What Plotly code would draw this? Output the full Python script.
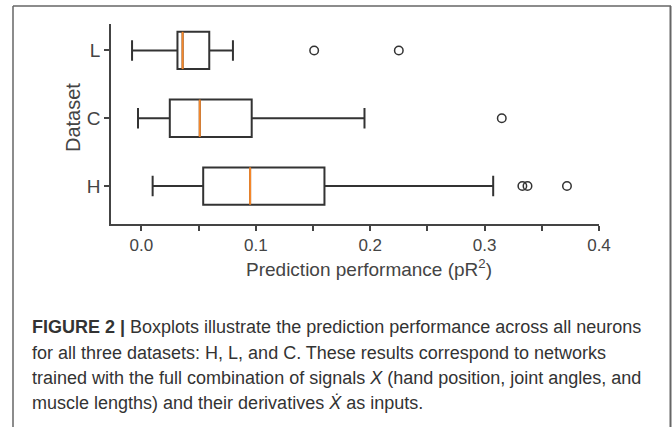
import plotly.graph_objects as go

# ---- data ----
datasets = ["H", "C", "L"]
lower_whisker = [0.0098, -0.0030, -0.0082]
q1_vals = [0.0540, 0.0248, 0.0315]
median_vals = [0.0950, 0.0510, 0.0360]
q3_vals = [0.1600, 0.0964, 0.0593]
upper_whisker = [0.3075, 0.1950, 0.0800]
outliers = [[0.3330, 0.3375, 0.3720], [0.3150], [0.1510, 0.2250]]

x_ticks = [0.0, 0.1, 0.2, 0.3, 0.4]

W, H = 672, 427
PL, PR, PT, PB = 111, 599, 24, 224  # plot area in pixels

def px(x):
    return (x - PL) / (PR - PL)

def py(y):
    return (PB - y) / (PB - PT)

BOX_W = 0.55
DARK = "#333333"
ORANGE = "#f5872a"
FAM = "Liberation Sans, Arial, sans-serif"

fig = go.Figure()
positions = list(range(len(datasets)))
for i, name in enumerate(datasets):
    fig.add_trace(go.Box(
        orientation="h",
        y=[positions[i]],
        q1=[q1_vals[i]], median=[median_vals[i]], q3=[q3_vals[i]],
        lowerfence=[lower_whisker[i]], upperfence=[upper_whisker[i]],
        width=BOX_W, whiskerwidth=0.55,
        fillcolor="rgba(255,255,255,0)",
        line=dict(color=DARK, width=2),
        showlegend=False, hoverinfo="skip",
    ))
    # orange median line
    fig.add_trace(go.Scatter(
        x=[median_vals[i], median_vals[i]],
        y=[positions[i] - BOX_W / 2, positions[i] + BOX_W / 2],
        mode="lines", line=dict(color=ORANGE, width=2),
        showlegend=False, hoverinfo="skip",
    ))
    fig.add_trace(go.Scatter(
        x=outliers[i], y=[positions[i]] * len(outliers[i]),
        mode="markers",
        marker=dict(symbol="circle-open", size=8.5, color=DARK, line=dict(width=1.5)),
        showlegend=False, hoverinfo="skip",
    ))

fig.update_layout(
    width=W, height=H,
    margin=dict(l=PL, r=W - PR, t=PT, b=H - PB, pad=0),
    paper_bgcolor="white", plot_bgcolor="white",
    xaxis=dict(
        range=[-0.0266, 0.4], tickvals=x_ticks, ticktext=[f"{v:.1f}" for v in x_ticks],
        showgrid=False, zeroline=False, showline=True, linecolor="#444444", linewidth=1.5,
        ticks="outside", ticklen=5, tickwidth=1.5, tickcolor="#444444",
        minor=dict(dtick=0.05, tick0=0, ticks="outside", ticklen=5, tickwidth=1.5, tickcolor="#444444"),
        tickfont=dict(family=FAM, size=17, color="#444444"),
    ),
    yaxis=dict(
        range=[-0.56, 2.39], tickvals=positions, ticktext=datasets,
        showgrid=False, zeroline=False, showline=True, linecolor="#444444", linewidth=1.5,
        ticks="outside", ticklen=5, tickwidth=1.5, tickcolor="#444444",
        tickfont=dict(family=FAM, size=19, color="#444444"),
    ),
)

# axis titles
fig.add_annotation(
    text="Prediction performance (pR<sup>2</sup>)", xref="paper", yref="paper",
    x=px(369), y=py(268), xanchor="center", yanchor="middle", showarrow=False,
    font=dict(family=FAM, size=19, color="#444444"),
)
fig.add_annotation(
    text="Dataset", xref="paper", yref="paper", textangle=-90,
    x=px(73), y=py(118), xanchor="center", yanchor="middle", showarrow=False,
    font=dict(family=FAM, size=20, color="#444444"),
)

# frame around figure (left, top, right)
fig.add_shape(type="line", xref="paper", yref="paper",
              x0=px(13), x1=px(13), y0=py(6), y1=py(430),
              line=dict(color="#666666", width=1.5))
fig.add_shape(type="line", xref="paper", yref="paper",
              x0=px(13), x1=px(671), y0=py(6), y1=py(6),
              line=dict(color="#666666", width=1.5))
fig.add_shape(type="line", xref="paper", yref="paper",
              x0=px(670.5), x1=px(670.5), y0=py(6), y1=py(430),
              line=dict(color="#666666", width=2))

caption_lines = [
    "<b>FIGURE 2 |</b> Boxplots illustrate the prediction performance across all neurons",
    "for all three datasets: H, L, and C. These results correspond to networks",
    "trained with the full combination of signals <i>X</i> (hand position, joint angles, and",
    "muscle lengths) and their derivatives <i>Ẋ</i> as inputs.",
]
caption_y = [327, 353, 378, 403]
for txt, yy in zip(caption_lines, caption_y):
    fig.add_annotation(
        text=txt, xref="paper", yref="paper", x=px(30), y=py(yy),
        xanchor="left", yanchor="middle", showarrow=False,
        font=dict(family=FAM, size=18, color="#333333"),
    )

fig.write_html("out.html")
